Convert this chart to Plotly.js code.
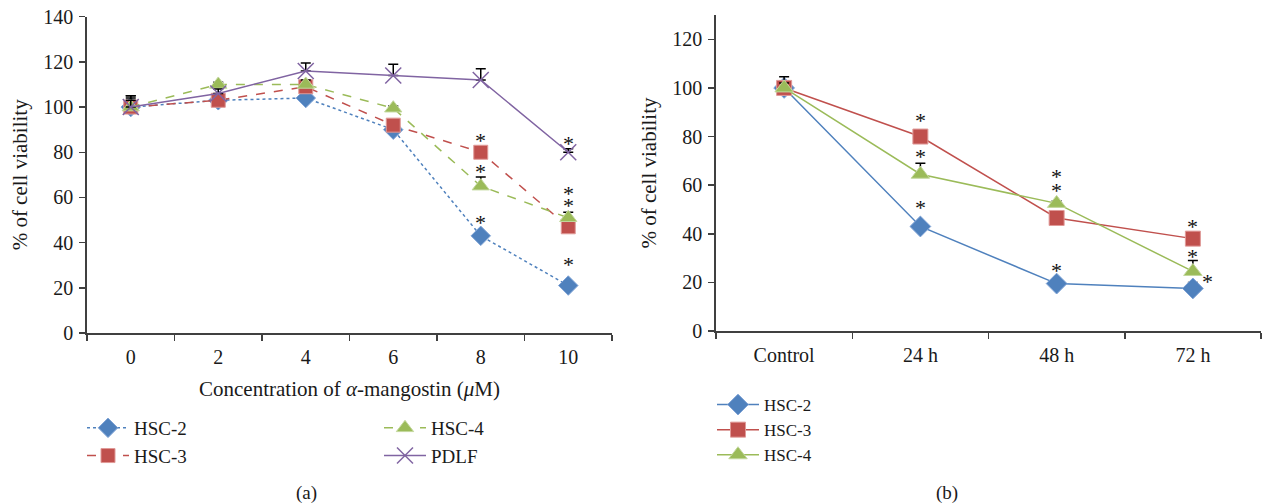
<!DOCTYPE html>
<html>
<head>
<meta charset="utf-8">
<script src="https://cdn.plot.ly/plotly-3.0.1.min.js"></script>
<style>html,body{margin:0;padding:0;background:#fff;}#chart{width:1263px;height:504px;}</style>
</head>
<body>
<div id="chart"></div>
<script>
// ---------- Data: panel (a) ----------
var concCats = ["0", "2", "4", "6", "8", "10"];
var a_hsc2 = [100, 103, 104, 90, 43, 21];
var a_hsc3 = [100, 103, 109, 92, 80, 47];
var a_hsc4 = [100, 110, 110, 99.5, 65, 51];
var a_pdlf = [100, 106, 116, 114, 112, 80];
var a_err_hsc2 = [5, 0, 0, 0, 0, 0];
var a_err_hsc3 = [5, 1, 2, 0, 0, 0];
var a_err_hsc4 = [4, 1, 2, 1, 4, 2.5];
var a_err_pdlf = [3, 2, 3.5, 5, 5, 1.5];
// significance asterisks, panel (a)
var a_astX = ["8", "8", "8", "10", "10", "10", "10"];
var a_astY = [86.6, 72.8, 50.4, 85.4, 62.9, 57.8, 31.5];

// ---------- Data: panel (b) ----------
var timeCats = ["Control", "24 h", "48 h", "72 h"];
var b_hsc2 = [100, 43, 19.5, 17.5];
var b_hsc3 = [100, 80, 46.5, 38];
var b_hsc4 = [100, 64.5, 52.5, 24.5];
var b_err_hsc2 = [3, 0.5, 1.6, 2.5];
var b_err_hsc3 = [4.6, 0.5, 0.5, 0.5];
var b_err_hsc4 = [2, 4.5, 1, 4.5];
// significance asterisks, panel (b)
var b_astX = ["24 h", "24 h", "24 h", "48 h", "48 h", "48 h", "72 h", "72 h", "72 h"];
var b_astY = [87.7, 72.9, 52, 64.7, 59.2, 26.3, 44.4, 32, 21.5];
var b_astShift = [0, 0, 0, 0, 0, 0, 0, 0, 15];

var BLUE = "#4F81BD", RED = "#C0504D", GREEN = "#9BBB59", PURPLE = "#8064A2";
var FONT = "Liberation Serif, Times New Roman, serif";
var AXC = "#404040";
var TXT = "#1a1a1a";

function errs(arr) {
  return {type: "data", symmetric: false, array: arr, arrayminus: arr.map(function(){return 0;}),
          color: "#000", thickness: 1.5, width: 5};
}

var traces = [
  {x: concCats, y: a_hsc2, name: "HSC-2", mode: "lines+markers", xaxis: "x", yaxis: "y", legend: "legend",
   line: {color: BLUE, width: 1.5, dash: "dot"}, marker: {symbol: "diamond", size: 15, color: BLUE, line: {color: "#7fa3d6", width: 1}},
   error_y: errs(a_err_hsc2)},
  {x: concCats, y: a_hsc3, name: "HSC-3", mode: "lines+markers", xaxis: "x", yaxis: "y", legend: "legend",
   line: {color: RED, width: 1.5, dash: "dash"}, marker: {symbol: "square", size: 14, color: RED, line: {color: "#e09a98", width: 1}},
   error_y: errs(a_err_hsc3)},
  {x: concCats, y: a_hsc4, name: "HSC-4", mode: "lines+markers", xaxis: "x", yaxis: "y", legend: "legend2",
   line: {color: GREEN, width: 1.5, dash: "dash"}, marker: {symbol: "triangle-up", size: 15, color: GREEN, line: {color: "#c3d89d", width: 1}},
   error_y: errs(a_err_hsc4)},
  {x: concCats, y: a_pdlf, name: "PDLF", mode: "lines+markers", xaxis: "x", yaxis: "y", legend: "legend2",
   line: {color: PURPLE, width: 1.5}, marker: {symbol: "x-thin-open", size: 16, color: PURPLE, line: {color: PURPLE, width: 1.5}},
   error_y: errs(a_err_pdlf)},
  {x: timeCats, y: b_hsc2, name: "HSC-2", mode: "lines+markers", xaxis: "x2", yaxis: "y2", legend: "legend3",
   line: {color: BLUE, width: 1.5}, marker: {symbol: "diamond", size: 16, color: BLUE, line: {color: "#7fa3d6", width: 1}},
   error_y: errs(b_err_hsc2)},
  {x: timeCats, y: b_hsc3, name: "HSC-3", mode: "lines+markers", xaxis: "x2", yaxis: "y2", legend: "legend3",
   line: {color: RED, width: 1.5}, marker: {symbol: "square", size: 15, color: RED, line: {color: "#e09a98", width: 1}},
   error_y: errs(b_err_hsc3)},
  {x: timeCats, y: b_hsc4, name: "HSC-4", mode: "lines+markers", xaxis: "x2", yaxis: "y2", legend: "legend3",
   line: {color: GREEN, width: 1.5}, marker: {symbol: "triangle-up", size: 16, color: GREEN, line: {color: "#c3d89d", width: 1}},
   error_y: errs(b_err_hsc4)}
];

var annotations = [];
a_astX.forEach(function(xv, i) {
  annotations.push({x: concCats.indexOf(xv), y: a_astY[i], xref: "x", yref: "y", text: "*", showarrow: false,
                    font: {family: FONT, size: 22, color: "#111"}, yshift: -3});
});
b_astX.forEach(function(xv, i) {
  annotations.push({x: timeCats.indexOf(xv), y: b_astY[i], xref: "x2", yref: "y2", text: "*", showarrow: false, xshift: b_astShift[i],
                    font: {family: FONT, size: 22, color: "#111"}, yshift: -3});
});
annotations.push({x: 306/1263, y: (504-493)/504, xref: "paper", yref: "paper", xanchor: "center", yanchor: "middle",
                  text: "(a)", showarrow: false, font: {family: FONT, size: 19, color: TXT}});
annotations.push({x: 947/1263, y: (504-493)/504, xref: "paper", yref: "paper", xanchor: "center", yanchor: "middle",
                  text: "(b)", showarrow: false, font: {family: FONT, size: 19, color: TXT}});

function xax(domain, range, title) {
  var o = {domain: domain, type: "category", range: range, autorange: false, showline: true, linecolor: AXC, linewidth: 1.8,
           ticks: "outside", tickson: "boundaries", ticklen: 6, tickcolor: AXC, tickwidth: 1.5,
           ticklabelstandoff: 5,
           showgrid: false, zeroline: false, fixedrange: true,
           tickfont: {family: FONT, size: 20, color: TXT}};
  if (title) o.title = {text: title, font: {family: FONT, size: 21, color: TXT}, standoff: 14};
  return o;
}
function yax(domain, range, anchor) {
  return {domain: domain, range: range, autorange: false, anchor: anchor, showline: true, linecolor: AXC, linewidth: 1.8,
          ticks: "outside", ticklen: 6, tickcolor: AXC, tickwidth: 1.5, dtick: 20, tick0: 0,
          ticklabelstandoff: 2,
          showgrid: false, zeroline: false, fixedrange: true,
          tickfont: {family: FONT, size: 20, color: TXT},
          title: {text: "% of cell viability", font: {family: FONT, size: 21, color: TXT}, standoff: 10}};
}

function leg(xpx, ypx, fs) {
  return {x: xpx/1263, y: (504-ypx)/504, xanchor: "left", yanchor: "top",
          font: {family: FONT, size: fs, color: TXT},
          bgcolor: "rgba(0,0,0,0)", tracegroupgap: 0, itemwidth: 42};
}
var layout = {
  width: 1263, height: 504,
  margin: {l: 0, r: 0, t: 0, b: 0},
  paper_bgcolor: "#fff", plot_bgcolor: "#fff",
  showlegend: true,
  xaxis: Object.assign(xax([87/1263, 612/1263], [-0.5, 5.5], "Concentration of <i>α</i>-mangostin (<i>μ</i>M)"), {anchor: "y"}),
  yaxis: yax([(504-333)/504, (504-16.7)/504], [0, 140], "x"),
  xaxis2: Object.assign(xax([716/1263, 1261/1263], [-0.5, 3.5], null), {anchor: "y2"}),
  yaxis2: yax([(504-331)/504, (504-15)/504], [0, 130], "x2"),
  legend: leg(82, 409, 19),
  legend2: leg(379, 409, 19),
  legend3: leg(712, 387, 17),
  annotations: annotations
};

Plotly.newPlot("chart", traces, layout, {displayModeBar: false, staticPlot: true});
</script>
</body>
</html>
